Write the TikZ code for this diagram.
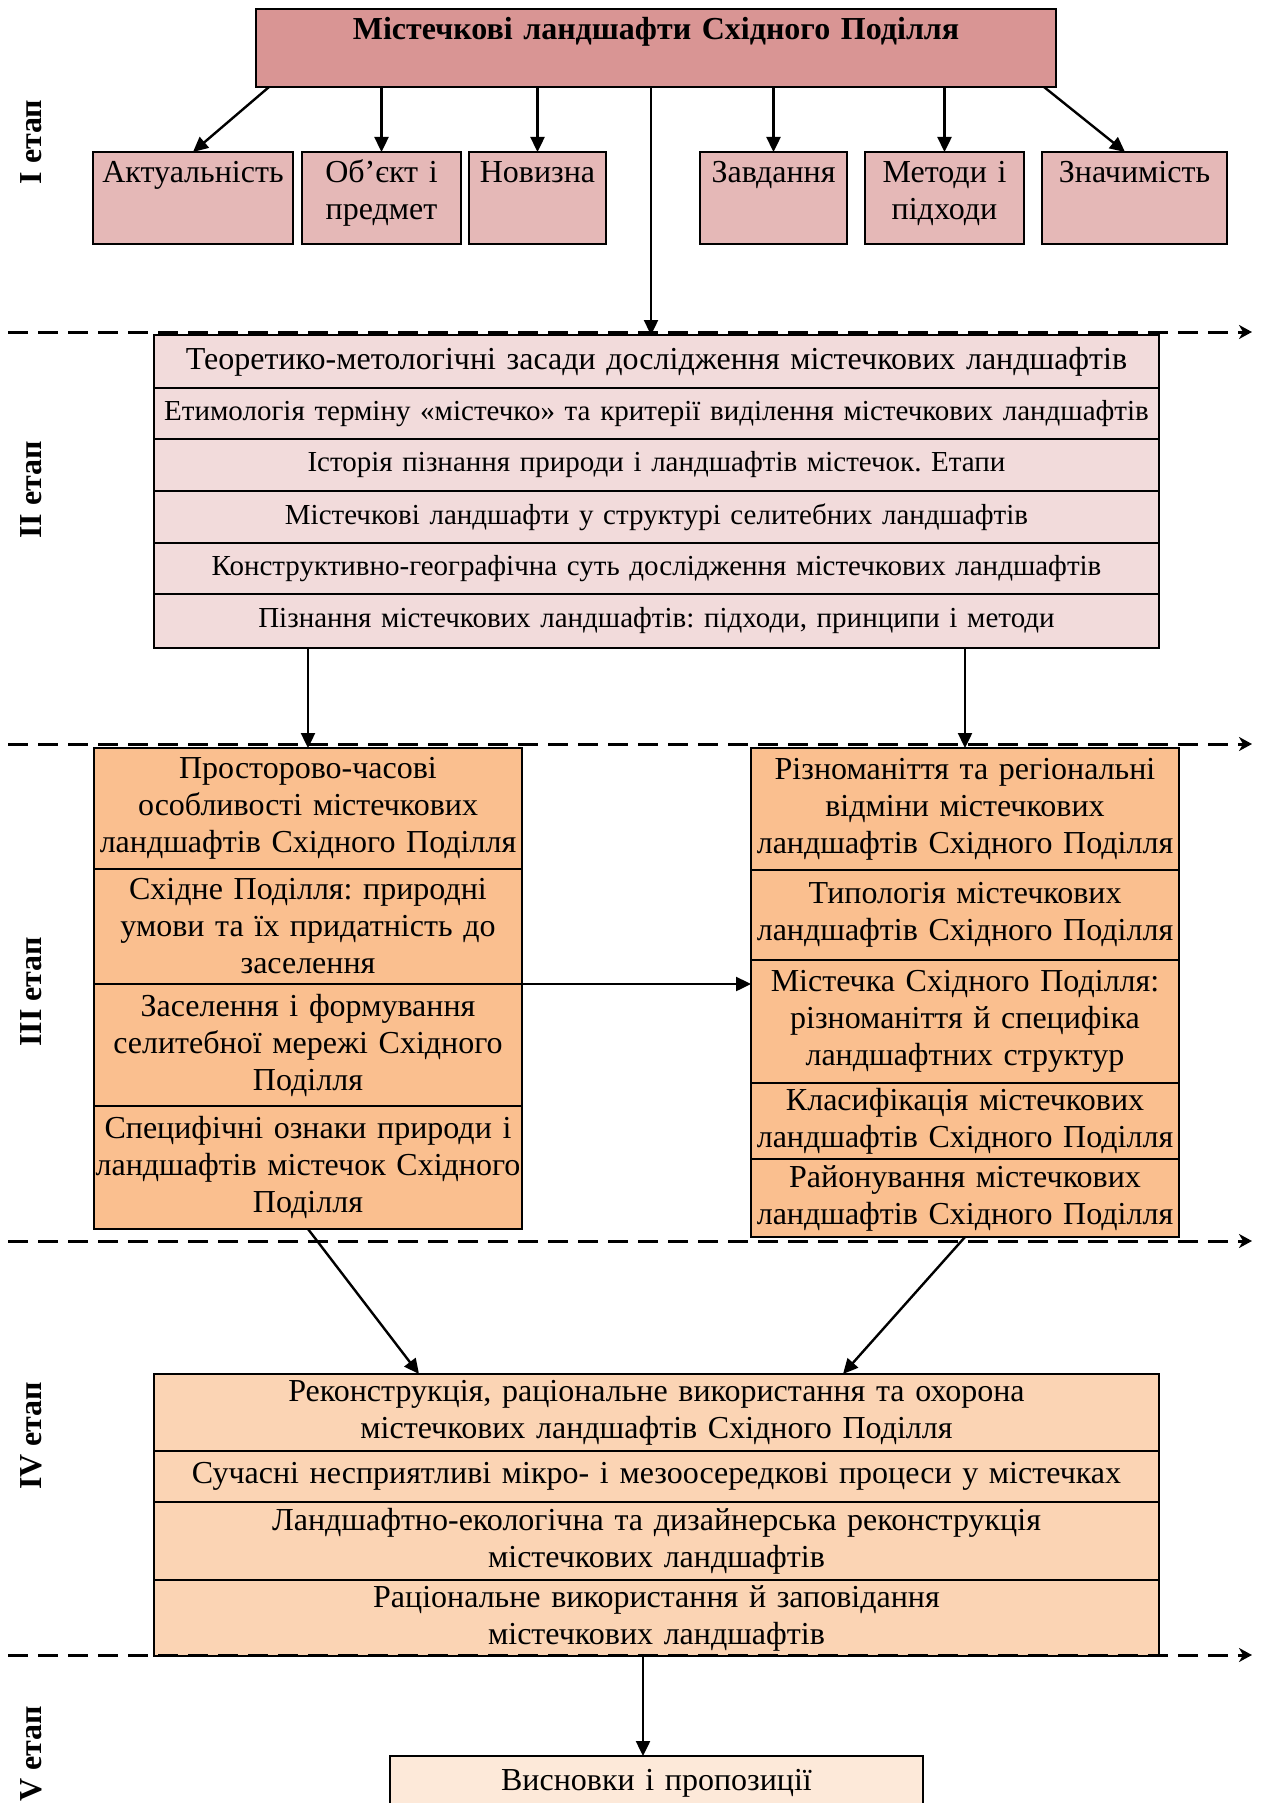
\documentclass[tikz,border=0pt]{standalone}
\usepackage{fontspec}
\setmainfont{Liberation Serif}
\frenchspacing
\usetikzlibrary{arrows.meta,positioning}
\definecolor{titlered}{HTML}{D99594}
\definecolor{kidred}{HTML}{E5B8B7}
\definecolor{twopink}{HTML}{F2DBDB}
\definecolor{threeorange}{HTML}{FABF8F}
\definecolor{fourorange}{HTML}{FBD4B4}
\definecolor{fivepeach}{HTML}{FDE9D9}
\tikzset{>={Triangle[length=15pt,width=14pt]}}
\tikzset{
  cell/.style={draw, line width=1.7pt, rectangle, anchor=north west, inner xsep=0pt,
    inner ysep=1pt, outer sep=0pt, align=center, text width=#1, minimum width=#1},
  kid/.style={cell=#1, fill=kidred, inner ysep=0pt, text height=31pt, text depth=61pt},
  twobox/.style={cell=1005pt, fill=twopink, font=\fontsize{29}{35}\selectfont},
  threel/.style={cell=428pt, fill=threeorange},
  threer/.style={cell=428pt, fill=threeorange},
  fourbox/.style={cell=1005pt, fill=fourorange},
  stage/.style={rotate=90, font=\fontsize{32}{36}\selectfont\bfseries},
  sep/.style={line width=3pt, dash pattern=on 20pt off 10pt, -{Stealth[length=13pt,width=14pt,inset=4pt]}},
  link/.style={line width=2.4pt, ->}
}

\begin{document}
\begin{tikzpicture}[x=1pt, y=-1pt, font=\fontsize{32}{37}\selectfont]
    \useasboundingbox (0,0) rectangle (1262,1803);
    % I etap
    \node[cell=800pt, fill=titlered, inner ysep=0pt, text height=31pt, text depth=47pt,
      font=\fontsize{32}{37}\selectfont\bfseries] (title) at (256,9) {Містечкові ландшафти Східного Поділля};
    \node[kid=200pt] (act) at (93,152) {Актуальність};
    \node[kid=159pt] (obj) at (302,152) {Об’єкт і\\предмет};
    \node[kid=137pt] (nov) at (469,152) {Новизна};
    \node[kid=147pt] (zav) at (700,152) {Завдання};
    \node[kid=159pt] (met) at (865,152) {Методи і\\підходи};
    \node[kid=185pt] (zna) at (1042,152) {Значимість};
    % II etap
    \node[twobox, minimum height=53pt, font=\fontsize{32}{37}\selectfont] (two1) at (154,335) {Теоретико-метологічні засади дослідження містечкових ландшафтів};
    \node[twobox, minimum height=51pt, below=0pt of two1] (two2) {Етимологія терміну «містечко» та критерії виділення містечкових ландшафтів};
    \node[twobox, minimum height=52pt, below=0pt of two2] (two3) {Історія пізнання природи і ландшафтів містечок. Етапи};
    \node[twobox, minimum height=52pt, below=0pt of two3] (two4) {Містечкові ландшафти у структурі селитебних ландшафтів};
    \node[twobox, minimum height=51pt, below=0pt of two4] (two5) {Конструктивно-географічна суть дослідження містечкових ландшафтів};
    \node[twobox, minimum height=54pt, below=0pt of two5] (two6) {Пізнання містечкових ландшафтів: підходи, принципи і методи};
    % III etap
    \node[threel, minimum height=121pt] (l1) at (94,748) {Просторово-часові\\особливості містечкових\\ландшафтів Східного Поділля};
    \node[threel, minimum height=115pt, below=0pt of l1] (l2) {Східне Поділля: природні\\умови та їх придатність до\\заселення};
    \node[threel, minimum height=122pt, below=0pt of l2] (l3) {Заселення і формування\\селитебної мережі Східного\\Поділля};
    \node[threel, minimum height=123pt, below=0pt of l3] (l4) {Специфічні ознаки природи і\\ландшафтів містечок Східного\\Поділля};
    \node[threer, minimum height=122pt] (r1) at (751,748) {Різноманіття та регіональні\\відміни містечкових\\ландшафтів Східного Поділля};
    \node[threer, minimum height=90pt, below=0pt of r1] (r2) {Типологія містечкових\\ландшафтів Східного Поділля};
    \node[threer, minimum height=123pt, below=0pt of r2] (r3) {Містечка Східного Поділля:\\різноманіття й специфіка\\ландшафтних структур};
    \node[threer, minimum height=76pt, below=0pt of r3] (r4) {Класифікація містечкових\\ландшафтів Східного Поділля};
    \node[threer, minimum height=78pt, below=0pt of r4] (r5) {Районування містечкових\\ландшафтів Східного Поділля};
    % IV etap
    \node[fourbox, minimum height=77pt] (f1) at (154,1374) {Реконструкція, раціональне використання та охорона\\містечкових ландшафтів Східного Поділля};
    \node[fourbox, minimum height=51pt, below=0pt of f1] (f2) {Сучасні несприятливі мікро- і мезоосередкові процеси у містечках};
    \node[fourbox, minimum height=78pt, below=0pt of f2] (f3) {Ландшафтно-екологічна та дизайнерська реконструкція\\містечкових ландшафтів};
    \node[fourbox, minimum height=76pt, below=0pt of f3] (f4) {Раціональне використання й заповідання\\містечкових ландшафтів};
    % V etap
    \node[cell=533pt, fill=fivepeach, inner ysep=0pt, text height=34pt, text depth=30pt] (fin) at (390,1756) {Висновки і пропозиції};
    % stage labels
    \node[stage] (s1) at (31,142) {I етап};
    \node[stage] (s2) at (31,490) {II етап};
    \node[stage] (s3) at (31,992) {III етап};
    \node[stage] (s4) at (31,1436) {IV етап};
    \node[stage] (s5) at (31,1754) {V етап};
    % stage borders
    \foreach \y in {332,744,1241,1655}
    \draw[sep] (8,\y) -- (1252,\y);
    % connectors
    \coordinate (t-act) at (269,87);
    \coordinate (t-two) at (651,87);
    \coordinate (t-zna) at (1044,87);
    \coordinate (zna-in) at (1125,152);
    \coordinate (in-l) at (419,1374);
    \coordinate (in-r) at (843,1374);
    \coordinate (out-f) at (643,1656);
    \draw[link] (t-act) -- (act.north);
    \foreach \k in {obj,nov,zav,met}
    \draw[link] (\k.north |- title.south) -- (\k.north);
    \draw[link] (t-zna) -- (zna-in);
    \draw[link] (t-two) -- (t-two |- two1.north);
    \foreach \k in {l1,r1}
    \draw[link] (\k.north |- two6.south) -- (\k.north);
    \draw[link] (l3.north east) -- (l3.north east -| r3.west);
    \draw[link] (l4.south) -- (in-l);
    \draw[link] (r5.south) -- (in-r);
    \draw[link] (out-f) -- (out-f |- fin.north);
\end{tikzpicture}
\end{document}
